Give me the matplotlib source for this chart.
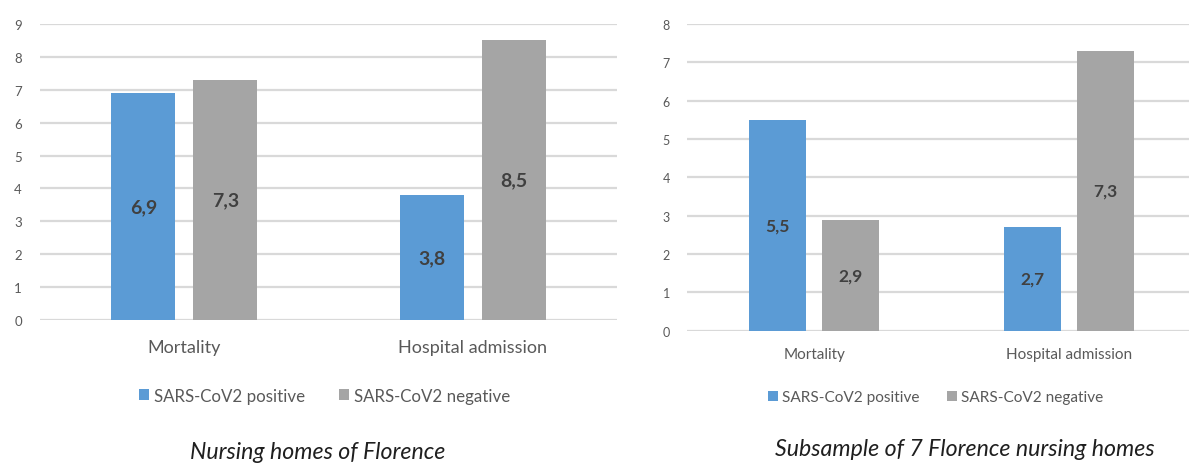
import matplotlib
matplotlib.use("Agg")
import matplotlib.pyplot as plt
import numpy as np

plt.rcParams["font.family"] = ["Lato", "DejaVu Sans"]

categories = ["Mortality", "Hospital admission"]
series_names = ["SARS-CoV2 positive", "SARS-CoV2 negative"]

# Nursing homes of Florence
left_positive = [6.9, 3.8]
left_negative = [7.3, 8.5]
left_ticks = list(range(0, 10))

# Subsample of 7 Florence nursing homes
right_positive = [5.5, 2.7]
right_negative = [2.9, 7.3]
right_ticks = list(range(0, 9))

titles = ["Nursing homes of Florence", "Subsample of 7 Florence nursing homes"]

BLUE = "#5B9BD5"
GRAY = "#A5A5A5"
GRID = "#D9D9D9"
TXT = "#595959"
LBL = "#404040"

W, H = 1189, 464
fig = plt.figure(figsize=(W / 100, H / 100), dpi=100)


def px_box(x0, y_top, x1, y_bot):
    return [x0 / W, 1 - y_bot / H, (x1 - x0) / W, (y_bot - y_top) / H]


def draw_panel(ax, pos, neg, ticks, width, offset, tick_fs, cat_fs, lbl_fs,
               tick_pad, cat_pad):
    x = np.arange(len(categories))
    b1 = ax.bar(x - offset, pos, width, color=BLUE, zorder=3, label=series_names[0])
    b2 = ax.bar(x + offset, neg, width, color=GRAY, zorder=3, label=series_names[1])
    for bars, vals in [(b1, pos), (b2, neg)]:
        ax.bar_label(bars, labels=[f"{v:.1f}".replace(".", ",") for v in vals],
                     label_type="center", fontsize=lbl_fs, fontweight="bold",
                     color=LBL)
    ax.set_xlim(-0.5, 1.5)
    ax.set_ylim(ticks[0], ticks[-1])
    ax.set_yticks(ticks)
    ax.set_xticks(x)
    ax.set_xticklabels(categories)
    ax.yaxis.grid(True, color=GRID, linewidth=1.6, zorder=0)
    ax.set_axisbelow(True)
    for s in ax.spines.values():
        s.set_visible(False)
    ax.tick_params(axis="y", length=0, labelsize=tick_fs, labelcolor=TXT, pad=tick_pad)
    ax.tick_params(axis="x", length=0, labelsize=cat_fs, labelcolor=TXT, pad=cat_pad)
    return b1, b2


ax1 = fig.add_axes(px_box(40, 25, 617, 321))
h1 = draw_panel(ax1, left_positive, left_negative, left_ticks,
                0.222, 0.142, 9.5, 13, 14, 13, 13.5)
ax1.legend(h1, series_names, loc="center", bbox_to_anchor=(324.5 / W, 1 - 396.7 / H),
           bbox_transform=fig.transFigure, ncol=2, frameon=False, fontsize=12.2,
           handlelength=0.6, handleheight=0.6, handletextpad=0.3,
           columnspacing=2.0, labelcolor=TXT)

ax2 = fig.add_axes(px_box(686.7, 25, 1196.7, 331.7))
h2 = draw_panel(ax2, right_positive, right_negative, right_ticks,
                0.2235, 0.143, 9, 11, 12.5, 12, 11.5)
ax2.legend(h2, series_names, loc="center", bbox_to_anchor=(936 / W, 1 - 398.3 / H),
           bbox_transform=fig.transFigure, ncol=2, frameon=False, fontsize=11.1,
           handlelength=0.6, handleheight=0.6, handletextpad=0.3,
           columnspacing=1.8, labelcolor=TXT)

fig.text(317.5 / W, 1 - 453 / H, titles[0], ha="center", va="center",
         fontsize=16.7, style="italic", color="#1F1F1F")
fig.text(965 / W, 1 - 450 / H, titles[1], ha="center", va="center",
         fontsize=16.7, style="italic", color="#1F1F1F")

fig.savefig("out.png", dpi=100, facecolor="white")
